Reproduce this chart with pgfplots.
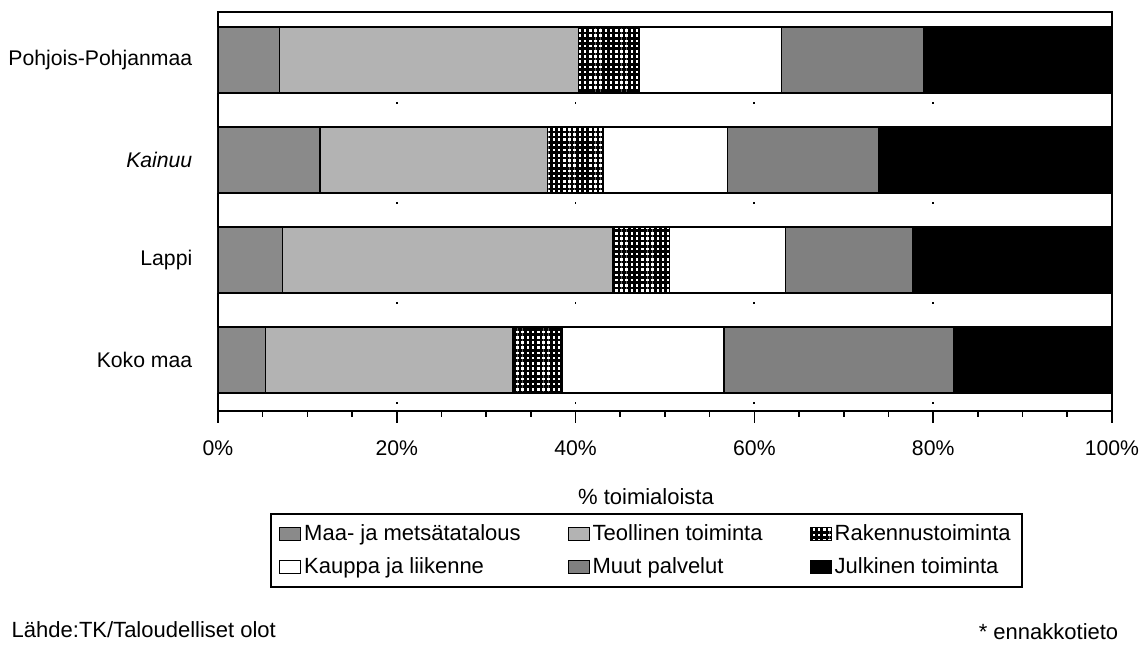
\documentclass[border=0pt]{standalone}
\usepackage{fontspec}
\setmainfont{Liberation Sans}
\usepackage{pgfplots}
\pgfplotsset{compat=1.18}
\usetikzlibrary{patterns.meta}
\definecolor{maa}{HTML}{8A8A8A}
\definecolor{teol}{HTML}{B3B3B3}
\definecolor{muut}{HTML}{808080}
\begin{document}
\fontsize{11}{13.2}\selectfont
\begin{tikzpicture}[x=0.5pt,y=0.5pt]
\useasboundingbox (0,0) rectangle (1148,652);
\begin{axis}[
  at={(109pt,120.5pt)}, anchor=south west,
  width=447pt, height=199.5pt, scale only axis,
  xbar stacked, bar width=0.66,
  xmin=0, xmax=100, ymin=-0.51, ymax=3.48,
  xtick={0,20,40,60,80,100},
  xticklabels={0\%,20\%,40\%,60\%,80\%,100\%},
  minor x tick num=3,
  x tick style={black, line width=0.8pt},
  xtick align=outside, xtick pos=bottom,
  major tick length=6pt, minor tick length=3pt,
  ytick={0,1,2,3},
  yticklabels={Koko maa,Lappi,\textit{Kainuu},Pohjois-Pohjanmaa},
  y tick style={draw=none}, ytick align=inside, ytick pos=left,
  tick label style={font=\fontsize{10.6}{12.7}\selectfont},
  yticklabel style={anchor=east, xshift=-9pt},
  xticklabel style={anchor=center, yshift=-12.5pt},
  axis line style={line width=0.9pt},
  xmajorgrids,
  major grid style={black, line width=0.9pt, dash pattern=on 0.9pt off 24.1pt, dash phase=21.3pt},
  every axis plot post/.append style={draw=black, line width=0.6pt,
    legend image code/.code={\draw[##1,draw=black,line width=0.5pt] (0pt,-3.4pt) rectangle (10.5pt,3.4pt);}},
  legend columns=3, legend cell align=left,
  legend style={at={(0.4793,-0.3496)}, anchor=center, draw=black, line width=0.8pt,
    inner xsep=4pt, inner ysep=3pt, row sep=3pt,
    nodes={inner xsep=1.5pt},
    /tikz/every odd column/.append style={column sep=0pt},
    /tikz/every even column/.append style={column sep=22pt}},
]
\addplot[fill=maa] coordinates {(6.9,3) (11.4,2) (7.2,1) (5.3,0)};
\addlegendentry{Maa- ja metsätatalous}
\addplot[fill=teol] coordinates {(33.4,3) (25.5,2) (36.9,1) (27.7,0)};
\addlegendentry{Teollinen toiminta}
\addplot[fill=white, postaction={pattern={Hatch[angle=0,distance=2.6pt,line width=1.3pt]}, pattern color=black}] coordinates {(6.8,3) (6.2,2) (6.4,1) (5.5,0)};
\addlegendentry{Rakennustoiminta}
\addplot[fill=white] coordinates {(15.9,3) (13.9,2) (13.0,1) (18.1,0)};
\addlegendentry{Kauppa ja liikenne}
\addplot[fill=muut] coordinates {(15.9,3) (16.9,2) (14.2,1) (25.7,0)};
\addlegendentry{Muut palvelut}
\addplot[fill=black] coordinates {(21.1,3) (26.1,2) (22.3,1) (17.7,0)};
\addlegendentry{Julkinen toiminta}
\end{axis}
\node at (646,155) {\% toimialoista};
\node[anchor=west] at (4,22) {Lähde:TK/Taloudelliset olot};
\node[anchor=east] at (1126,20) {* ennakkotieto};
\end{tikzpicture}
\end{document}
